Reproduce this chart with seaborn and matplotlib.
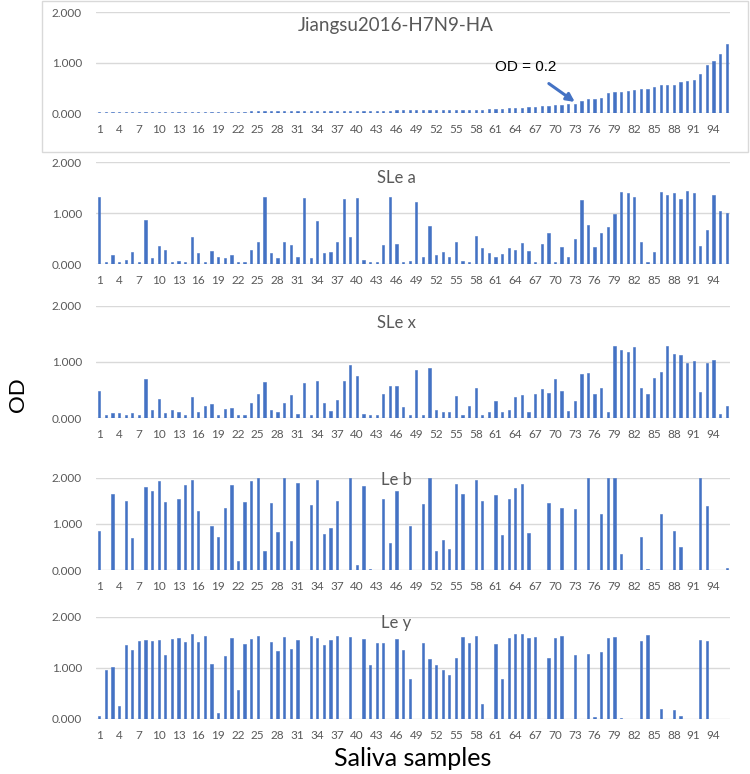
import numpy as np
import pandas as pd
import matplotlib
matplotlib.use("Agg")
import matplotlib.pyplot as plt
from matplotlib.patches import Rectangle
import seaborn as sns

# ---------------- data ----------------
samples = list(range(1, 97))
tick_labels = [str(s) for s in samples[::3]]

jiangsu = [0.02, 0.02, 0.02, 0.02, 0.02, 0.025, 0.025, 0.025, 0.025, 0.025,
           0.03, 0.03, 0.03, 0.03, 0.03, 0.03, 0.03, 0.03, 0.035, 0.035,
           0.035, 0.035, 0.035, 0.04, 0.04, 0.04, 0.04, 0.04, 0.04, 0.045,
           0.045, 0.045, 0.045, 0.045, 0.05, 0.05, 0.05, 0.05, 0.05, 0.05,
           0.055, 0.055, 0.055, 0.055, 0.055, 0.06, 0.06, 0.06, 0.06, 0.06,
           0.06, 0.065, 0.065, 0.065, 0.065, 0.07, 0.07, 0.07, 0.075, 0.08,
           0.085, 0.09, 0.10, 0.105, 0.11, 0.13, 0.13, 0.14, 0.14, 0.16,
           0.17, 0.185, 0.185, 0.245, 0.28, 0.29, 0.30, 0.40, 0.42, 0.42,
           0.45, 0.46, 0.48, 0.49, 0.53, 0.56, 0.56, 0.57, 0.62, 0.64,
           0.66, 0.77, 0.95, 1.04, 1.17, 1.37]

sle_a = [1.31, 0.04, 0.18, 0.04, 0.085, 0.25, 0.04, 0.86, 0.13, 0.36,
         0.28, 0.04, 0.065, 0.05, 0.53, 0.22, 0.045, 0.27, 0.14, 0.12,
         0.18, 0.05, 0.05, 0.29, 0.44, 1.31, 0.22, 0.12, 0.44, 0.37,
         0.15, 1.30, 0.12, 0.84, 0.22, 0.24, 0.44, 1.29, 0.54, 1.30,
         0.085, 0.04, 0.04, 0.38, 1.31, 0.39, 0.04, 0.065, 1.22, 0.14,
         0.75, 0.18, 0.24, 0.15, 0.43, 0.065, 0.05, 0.55, 0.32, 0.23,
         0.15, 0.21, 0.31, 0.28, 0.41, 0.27, 0.04, 0.39, 0.61, 0.05,
         0.33, 0.14, 0.49, 1.27, 0.77, 0.33, 0.61, 0.73, 0.98, 1.41,
         1.39, 1.32, 0.43, 0.04, 0.25, 1.41, 1.35, 1.40, 1.29, 1.44,
         1.39, 0.35, 0.68, 1.36, 1.05, 1.01]

sle_x = [0.49, 0.065, 0.09, 0.09, 0.05, 0.09, 0.05, 0.69, 0.14, 0.34,
         0.09, 0.14, 0.11, 0.05, 0.38, 0.11, 0.22, 0.26, 0.05, 0.17,
         0.18, 0.06, 0.06, 0.27, 0.44, 0.64, 0.14, 0.11, 0.27, 0.42,
         0.08, 0.62, 0.065, 0.67, 0.27, 0.13, 0.32, 0.66, 0.94, 0.76,
         0.07, 0.06, 0.065, 0.43, 0.57, 0.57, 0.20, 0.05, 0.86, 0.05,
         0.89, 0.14, 0.11, 0.11, 0.39, 0.05, 0.22, 0.54, 0.05, 0.11,
         0.31, 0.11, 0.14, 0.38, 0.41, 0.12, 0.44, 0.52, 0.45, 0.70,
         0.49, 0.13, 0.31, 0.79, 0.81, 0.43, 0.53, 0.11, 1.28, 1.22,
         1.17, 1.26, 0.53, 0.44, 0.72, 0.83, 1.29, 1.15, 1.12, 0.98,
         1.02, 0.46, 0.99, 1.04, 0.08, 0.22]

le_b = [0.85, 0.0, 1.64, 0.0, 1.50, 0.70, 0.0, 1.80, 1.71, 1.92,
        1.47, 0.0, 1.53, 1.84, 1.96, 1.27, 0.0, 0.96, 0.73, 1.35,
        1.84, 0.20, 1.47, 1.93, 2.00, 0.42, 1.45, 0.82, 2.00, 0.63,
        1.88, 0.0, 1.41, 1.94, 0.78, 0.92, 1.50, 0.0, 2.00, 0.12,
        1.81, 0.03, 0.0, 1.53, 0.59, 1.71, 0.0, 0.96, 0.0, 1.43,
        2.00, 0.41, 0.65, 0.45, 1.86, 1.64, 0.0, 1.96, 1.50, 0.0,
        1.63, 0.76, 1.53, 1.78, 1.86, 0.81, 0.0, 0.0, 1.46, 0.0,
        1.34, 0.0, 1.32, 0.0, 2.00, 0.01, 1.21, 2.00, 2.00, 0.36,
        0.0, 0.0, 0.71, 0.03, 0.0, 1.22, 0.0, 0.84, 0.50, 0.0,
        0.0, 2.00, 1.39, 0.0, 0.0, 0.05]

le_y = [0.05, 0.95, 1.01, 0.25, 1.44, 1.35, 1.53, 1.54, 1.53, 1.54,
        1.25, 1.57, 1.58, 1.50, 1.67, 1.50, 1.63, 1.08, 0.12, 1.22,
        1.59, 0.56, 1.47, 1.56, 1.62, 0.0, 1.50, 1.33, 1.60, 1.36,
        1.54, 0.0, 1.63, 1.59, 1.44, 1.54, 1.63, 0.0, 1.61, 0.0,
        1.56, 1.05, 1.48, 1.49, 0.0, 1.56, 1.35, 0.77, 0.0, 1.48,
        1.17, 1.05, 0.95, 0.85, 1.19, 1.60, 1.48, 1.63, 0.29, 0.0,
        1.46, 0.77, 1.59, 1.67, 1.66, 1.59, 1.60, 0.0, 1.20, 1.59,
        1.62, 0.0, 1.24, 0.0, 1.26, 0.04, 1.31, 1.58, 1.60, 0.01,
        0.0, 0.0, 1.52, 1.65, 0.0, 0.19, 0.0, 0.18, 0.06, 0.0,
        0.0, 1.54, 1.52, 0.0, 0.0, 0.0]

titles = ["Jiangsu2016-H7N9-HA", "SLe a", "SLe x", "Le b", "Le y"]
series = [jiangsu, sle_a, sle_x, le_b, le_y]

# ---------------- style ----------------
sns.set_theme(style="white")
plt.rcParams["font.family"] = ["Lato", "DejaVu Sans"]

BLUE = "#4472C4"
GRID = "#D9D9D9"
TXT = "#595959"

W, H = 750, 774
fig = plt.figure(figsize=(W / 100, H / 100), dpi=100)

# (zero-line px, two-line px, title centre px, title size)
layout = [
    (113.3, 12.3, 25, 13.5),
    (264.3, 162.3, 178, 12),
    (418.3, 305.7, 323, 12),
    (570.3, 477.7, 480, 12),
    (718.7, 616.7, 623, 12),
]

left_px, right_px = 96, 730
axes = []
for title, vals, (y0, y2, ty, tsize) in zip(titles, series, layout):
    ax = fig.add_axes([left_px / W, 1 - y0 / H, (right_px - left_px) / W, (y0 - y2) / H])
    df = pd.DataFrame({"sample": samples, "OD": vals})
    sns.barplot(data=df, x="sample", y="OD", color=BLUE, width=0.34,
                saturation=1, ax=ax, errorbar=None, linewidth=0.4,
                edgecolor=BLUE)
    ax.set_xlim(-0.5, len(samples) - 0.5)
    ax.set_ylim(0, 2)
    ax.set_yticks([0, 1, 2])
    ax.set_yticklabels(["0.000", "1.000", "2.000"])
    ax.set_xticks(range(0, len(samples), 3))
    ax.set_xticklabels(tick_labels)
    ax.yaxis.grid(True, color=GRID, lw=1)
    ax.set_axisbelow(True)
    for s in ["top", "right", "left", "bottom"]:
        ax.spines[s].set_visible(False)
    ax.tick_params(axis="both", length=0, labelsize=8.5, labelcolor=TXT)
    ax.tick_params(axis="y", pad=10)
    ax.tick_params(axis="x", pad=8)
    ax.set_xlabel("")
    ax.set_ylabel("")
    fig.text(396 / W, 1 - ty / H, title, ha="center", va="center",
             fontsize=tsize, color=TXT)
    axes.append(ax)

# annotation on first panel
ax1 = axes[0]
idx = 72
ax1.annotate("OD = 0.2", xy=(idx, jiangsu[idx] + 0.04), xytext=(64.5, 0.92),
             ha="center", va="center", fontsize=11, color="black",
             family="Liberation Sans",
             arrowprops=dict(arrowstyle="-|>", color=BLUE, lw=2.2,
                             mutation_scale=12, shrinkA=8, shrinkB=0))

# chart-area border around first panel
fig.patches.append(Rectangle((42 / W, 1 - 152 / H), (748 - 42) / W, 151 / H,
                             transform=fig.transFigure, fill=False,
                             edgecolor=GRID, lw=1))

fig.text(18 / W, 1 - 395 / H, "OD", rotation=90, ha="center", va="center",
         fontsize=16, color="black")
fig.text(413 / W, 1 - 758 / H, "Saliva samples", ha="center", va="center",
         fontsize=18, color="black")

fig.savefig("out.png", dpi=100)
